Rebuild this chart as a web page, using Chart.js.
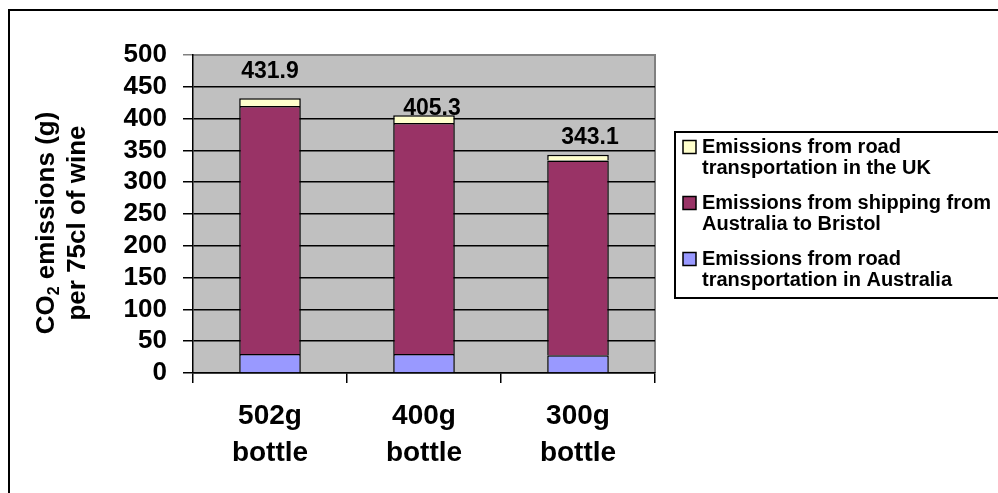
<!DOCTYPE html>
<html><head><meta charset="utf-8">
<script src="https://cdn.jsdelivr.net/npm/chart.js@4"></script>
<style>html,body{margin:0;padding:0;background:#fff;overflow:hidden}#wrap{width:998px;height:493px;position:relative}</style>
</head><body><div id="wrap"><canvas id="c" width="998" height="493"></canvas></div>
<script>
// ---- data ----
const categories = [["502g", "bottle"], ["400g", "bottle"], ["300g", "bottle"]];
const seriesNames = [
  ["Emissions from road", "transportation in Australia"],
  ["Emissions from shipping from", "Australia to Bristol"],
  ["Emissions from road", "transportation in the UK"]
];
const roadAustralia = [30, 30, 28];
const shippingToBristol = [390, 363, 306];
const roadUK = [11.9, 12.3, 9.1];
const yTickValues = [0, 50, 100, 150, 200, 250, 300, 350, 400, 450, 500];
const yTitleLines = ["CO|2| emissions (g)", "per 75cl of wine"];

const FONT = '"Liberation Sans", Arial, Helvetica, sans-serif';
const colors = ["#9999FF", "#993366", "#FFFFCC"];

const plotBg = {
  id: 'plotBg',
  beforeDraw(chart) {
    const { ctx, chartArea: a } = chart;
    ctx.save();
    ctx.strokeStyle = '#000'; ctx.lineWidth = 2;
    ctx.strokeRect(9, 10, 1200, 1000);
    ctx.fillStyle = '#C0C0C0';
    ctx.fillRect(a.left, a.top, a.right - a.left, a.bottom - a.top);
    ctx.strokeStyle = '#808080'; ctx.lineWidth = 2;
    ctx.beginPath();
    ctx.moveTo(a.left, a.top); ctx.lineTo(a.right, a.top); ctx.lineTo(a.right, a.bottom);
    ctx.stroke();
    ctx.restore();
  }
};

const totalsPlugin = {
  id: 'totals',
  afterDatasetsDraw(chart, args, opts) {
    const { ctx } = chart;
    const y = chart.scales.y;
    const topMeta = chart.getDatasetMeta(chart.data.datasets.length - 1);
    ctx.save();
    ctx.font = 'bold 23px ' + FONT;
    ctx.fillStyle = '#000'; ctx.textAlign = 'center'; ctx.textBaseline = 'middle';
    chart.data.labels.forEach((_, i) => {
      const total = chart.data.datasets.reduce((s, d) => s + d.data[i], 0);
      const nud = opts.nudge[i];
      const x = topMeta.data[i].x + nud[0];
      const py = y.getPixelForValue(total) - nud[1];
      ctx.fillText(total.toFixed(1), x, py);
    });
    ctx.restore();
  }
};

const yTitlePlugin = {
  id: 'yTitle',
  afterDraw(chart) {
    const { ctx } = chart;
    ctx.save();
    ctx.fillStyle = '#000';
    ctx.textBaseline = 'middle';
    const big = 'bold 26px ' + FONT, small = 'bold 16px ' + FONT;
    const xs = [47, 78];
    const cy = 223;
    yTitleLines.forEach((line, li) => {
      const parts = line.split('|');
      const widths = parts.map((p, k) => { ctx.font = (k % 2 === 1) ? small : big; return ctx.measureText(p).width; });
      const total = widths.reduce((a, b) => a + b, 0);
      ctx.save();
      ctx.translate(xs[li], cy);
      ctx.rotate(-Math.PI / 2);
      let x = -total / 2;
      parts.forEach((p, k) => {
        ctx.font = (k % 2 === 1) ? small : big;
        ctx.textAlign = 'left';
        ctx.fillText(p, x, (k % 2 === 1) ? 8 : 0);
        x += widths[k];
      });
      ctx.restore();
    });
    ctx.restore();
  }
};

const legendPlugin = {
  id: 'boxLegend',
  afterDraw(chart) {
    const { ctx } = chart;
    const ds = chart.data.datasets;
    ctx.save();
    ctx.fillStyle = '#fff';
    ctx.fillRect(675, 132, 400, 166);
    ctx.strokeStyle = '#000'; ctx.lineWidth = 2;
    ctx.strokeRect(675, 132, 400, 166);
    ctx.font = 'bold 20px ' + FONT;
    ctx.textBaseline = 'middle'; ctx.textAlign = 'left';
    let y = 147;
    for (let i = ds.length - 1; i >= 0; i--) {
      ctx.fillStyle = ds[i].backgroundColor;
      ctx.fillRect(683, y - 6.5, 13, 13);
      ctx.lineWidth = 1.5; ctx.strokeStyle = '#000';
      ctx.strokeRect(683, y - 6.5, 13, 13);
      ctx.fillStyle = '#000';
      seriesNames[i].forEach((t, j) => ctx.fillText(t, 702, y + j * 21));
      y += 56;
    }
    ctx.restore();
  }
};

const seriesData = [roadAustralia, shippingToBristol, roadUK];

new Chart(document.getElementById('c'), {
  type: 'bar',
  data: {
    labels: categories,
    datasets: seriesData.map((d, i) => ({
      label: seriesNames[i].join(' '),
      data: d,
      backgroundColor: colors[i],
      borderColor: '#000',
      borderWidth: 1.5,
      categoryPercentage: 1,
      barPercentage: 0.4
    }))
  },
  options: {
    responsive: false,
    animation: false,
    devicePixelRatio: 1,
    layout: { padding: { top: 55, right: 343, bottom: 0, left: 0 } },
    plugins: {
      legend: { display: false },
      tooltip: { enabled: false },
      totals: { nudge: [[0, 27], [8, 7], [12, 17]] }
    },
    scales: {
      x: {
        stacked: true,
        afterFit(s) { s.height = 120; },
        grid: { drawOnChartArea: false, drawTicks: true, tickLength: 10, color: '#000', lineWidth: 1.5, offset: true },
        border: { color: '#000', width: 1.5 },
        ticks: { color: '#000', padding: 15, font: { family: FONT, size: 28, weight: 'bold', lineHeight: 1.32 }, maxRotation: 0 }
      },
      y: {
        stacked: true,
        min: 0, max: 500,
        afterFit(s) { s.width = 193; },
        afterBuildTicks(s) { s.ticks = yTickValues.map(v => ({ value: v })); },
        grid: {
          tickLength: 10, lineWidth: 1.5,
          color: (c) => (c.tick && c.tick.value === 500) ? '#808080' : '#000'
        },
        border: { color: '#000', width: 1.5 },
        ticks: { color: '#000', padding: 16, autoSkip: false, font: { family: FONT, size: 26, weight: 'bold' } }
      }
    }
  },
  plugins: [plotBg, totalsPlugin, yTitlePlugin, legendPlugin]
});
</script>
</body></html>
